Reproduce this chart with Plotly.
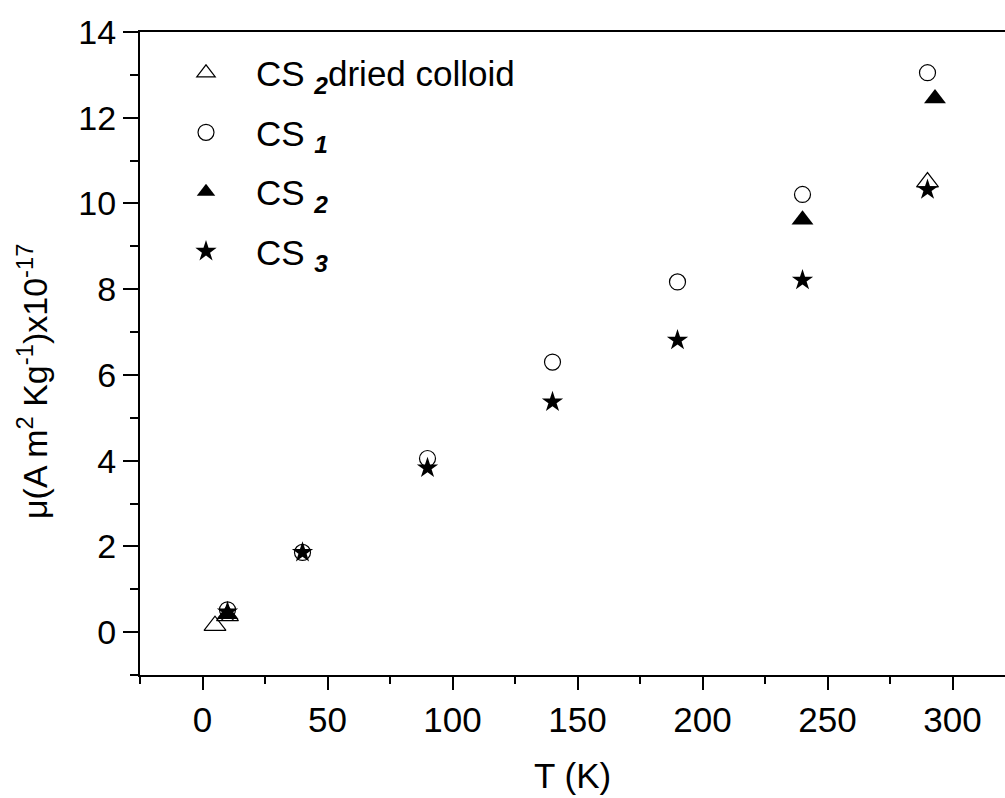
import plotly.graph_objects as go

# Data (T in K, mu in units of 1e-17 A m^2 / kg)
T_dried = [5, 10, 290]
mu_dried = [0.15, 0.38, 10.5]

T_cs1 = [10, 40, 90, 140, 190, 240, 290]
mu_cs1 = [0.52, 1.86, 4.05, 6.3, 8.17, 10.21, 13.05]

T_cs2 = [10, 240, 293]
mu_cs2 = [0.42, 9.62, 12.45]

T_cs3 = [10, 40, 90, 140, 190, 240, 290]
mu_cs3 = [0.47, 1.86, 3.83, 5.37, 6.81, 8.21, 10.32]

x_ticks = [0, 50, 100, 150, 200, 250, 300]
y_ticks = [0, 2, 4, 6, 8, 10, 12, 14]

x_title = "T (K)"
y_title = "μ(A m<sup>2</sup> Kg<sup>-1</sup>)x10<sup>-17</sup>"

FONT = "Arial, Liberation Sans, sans-serif"

fig = go.Figure()
fig.add_trace(go.Scatter(
    x=T_dried, y=mu_dried, mode="markers", legendgroup="a",
    name="CS <sub><b><i>2</i></b></sub>dried colloid",
    marker=dict(symbol="triangle-up-open", size=19, color="black", line=dict(width=1.2, color="black")),
))
fig.add_trace(go.Scatter(
    x=T_cs1, y=mu_cs1, mode="markers", legendgroup="b",
    name="CS <sub><b><i>1</i></b></sub>",
    marker=dict(symbol="circle-open", size=16, color="black", line=dict(width=1.2, color="black")),
))
fig.add_trace(go.Scatter(
    x=T_cs2, y=mu_cs2, mode="markers", legendgroup="c",
    name="CS <sub><b><i>2</i></b></sub>",
    marker=dict(symbol="triangle-up", size=19, color="black", line=dict(width=0)),
))
fig.add_trace(go.Scatter(
    x=T_cs3, y=mu_cs3, mode="markers", legendgroup="d",
    name="CS <sub><b><i>3</i></b></sub>",
    marker=dict(symbol="star", size=16, color="black", line=dict(width=0)),
))

fig.update_layout(
    width=1005, height=798,
    margin=dict(l=140, r=0, t=32, b=123),
    paper_bgcolor="white", plot_bgcolor="white",
    font=dict(family=FONT, color="black", size=34),
    showlegend=True,
    legend=dict(
        x=0.0185, y=0.982, xanchor="left", yanchor="top",
        bgcolor="rgba(0,0,0,0)", borderwidth=0,
        font=dict(family=FONT, size=35, color="black"),
        itemsizing="trace", itemwidth=90,
        tracegroupgap=11,
    ),
    xaxis=dict(
        range=[-25, 321], showgrid=False, zeroline=False,
        showline=True, linecolor="black", linewidth=2, mirror=True,
        ticks="outside", ticklen=13, tickwidth=2, tickcolor="black",
        tickvals=x_ticks, ticktext=[str(v) for v in x_ticks],
        tickfont=dict(family=FONT, size=35),
        minor=dict(dtick=25, tick0=0, ticks="outside", ticklen=7, tickwidth=2, tickcolor="black", showgrid=False),
    ),
    yaxis=dict(
        range=[-1, 14], showgrid=False, zeroline=False,
        showline=True, linecolor="black", linewidth=2, mirror=False,
        ticks="outside", ticklen=15, tickwidth=2, tickcolor="black",
        tickvals=y_ticks, ticktext=[str(v) for v in y_ticks],
        tickfont=dict(family=FONT, size=34),
        minor=dict(dtick=1, tick0=0, ticks="outside", ticklen=8, tickwidth=2, tickcolor="black", showgrid=False),
    ),
    annotations=[
        dict(
            text=y_title, textangle=-90, showarrow=False,
            xref="paper", yref="paper", x=-0.125, y=0.457,
            xanchor="center", yanchor="middle",
            font=dict(family=FONT, size=34, color="black"),
        ),
        dict(
            text=x_title, showarrow=False,
            xref="paper", yref="paper", x=0.5, y=-0.157,
            xanchor="center", yanchor="middle",
            font=dict(family=FONT, size=35, color="black"),
        ),
    ],
)

fig.write_html("out.html")
